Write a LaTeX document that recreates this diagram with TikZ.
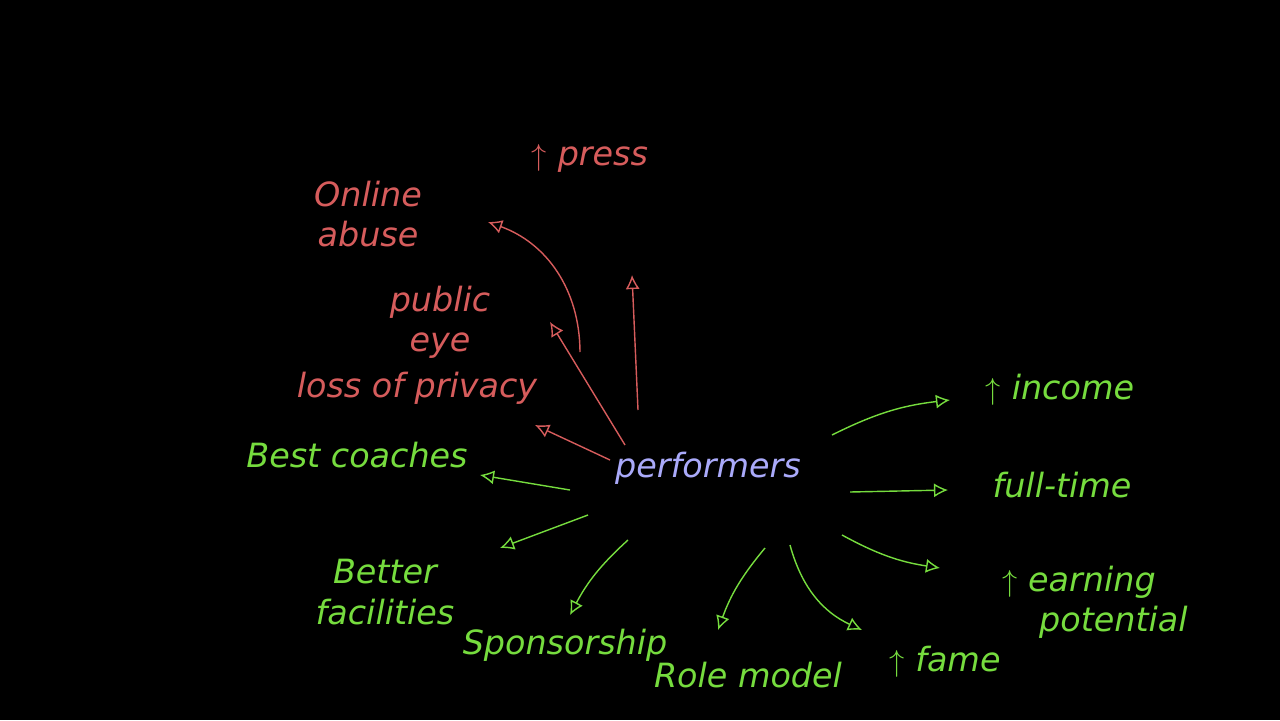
\documentclass[tikz,border=0pt]{standalone}
\usepackage{fontspec}
\setmainfont{DejaVu Sans}
\usetikzlibrary{arrows.meta}
\definecolor{chalkred}{RGB}{214,92,92}
\definecolor{chalkgreen}{RGB}{118,220,62}
\definecolor{chalkblue}{RGB}{170,170,250}
\begin{document}
\begin{tikzpicture}[x=0.02cm,y=-0.02cm,
    txt/.style = {font=\fontsize{19}{23}\selectfont\itshape,align=center,inner sep=1pt},
    downside/.style = {txt,text=chalkred},
    upside/.style = {txt,text=chalkgreen},
    ra/.style = {draw=chalkred,thick,-{Latex[open,length=8pt,width=8pt]}},
    ga/.style = {draw=chalkgreen,thick,-{Latex[open,length=8pt,width=8pt]}}]
    \fill[black] (0,0) rectangle (1280,720);
    \node[txt,text=chalkblue] (perf) at (708,468) {performers};
    % downsides
    \node[downside] (press) at (590,158) {$\uparrow$ press};
    \node[downside] (online) at (368,214) {Online\\abuse};
    \node[downside] (eye) at (440,322) {public\\eye};
    \node[downside] (privacy) at (417,388) {loss of privacy};
    % upsides
    \node[upside] (coach) at (357,455) {Best coaches};
    \node[upside] (facil) at (385,592) {Better\\facilities};
    \node[upside] (spons) at (565,645) {Sponsorship};
    \node[upside] (role) at (748,675) {Role model};
    \node[upside] (fame) at (945,662) {$\uparrow$ fame};
    \node[upside] (income) at (1060,390) {$\uparrow$ income};
    \node[upside] (full) at (1062,485) {full-time};
    \node[upside,align=left] (earn) at (1095,602) {$\uparrow$ earning\\\hspace{1.1em}potential};
    % arrow ends
    \coordinate (t1) at (638,410); \coordinate (h1) at (632,275);
    \coordinate (t2) at (625,445); \coordinate (h2) at (550,322);
    \coordinate (t3) at (580,352); \coordinate (h3) at (488,222);
    \coordinate (t4) at (610,460); \coordinate (h4) at (535,425);
    \draw[ra] (t1) -- (h1);
    \draw[ra] (t2) -- (h2);
    \draw[ra] (t3) to[bend right=35] (h3);
    \draw[ra] (t4) -- (h4);
    \coordinate (g1) at (570,490); \coordinate (k1) at (480,475);
    \coordinate (g2) at (588,515); \coordinate (k2) at (500,548);
    \coordinate (g3) at (628,540); \coordinate (k3) at (570,615);
    \coordinate (g4) at (765,548); \coordinate (k4) at (718,630);
    \coordinate (g5) at (790,545); \coordinate (k5) at (862,630);
    \coordinate (g6) at (832,435); \coordinate (k6) at (950,400);
    \coordinate (g7) at (850,492); \coordinate (k7) at (948,490);
    \coordinate (g8) at (842,535); \coordinate (k8) at (940,568);
    \draw[ga] (g1) -- (k1);
    \draw[ga] (g2) -- (k2);
    \draw[ga] (g3) to[bend right=10] (k3);
    \draw[ga] (g4) to[bend right=10] (k4);
    \draw[ga] (g5) to[bend right=25] (k5);
    \draw[ga] (g6) to[bend left=10] (k6);
    \draw[ga] (g7) -- (k7);
    \draw[ga] (g8) to[bend right=10] (k8);
\end{tikzpicture}
\end{document}
